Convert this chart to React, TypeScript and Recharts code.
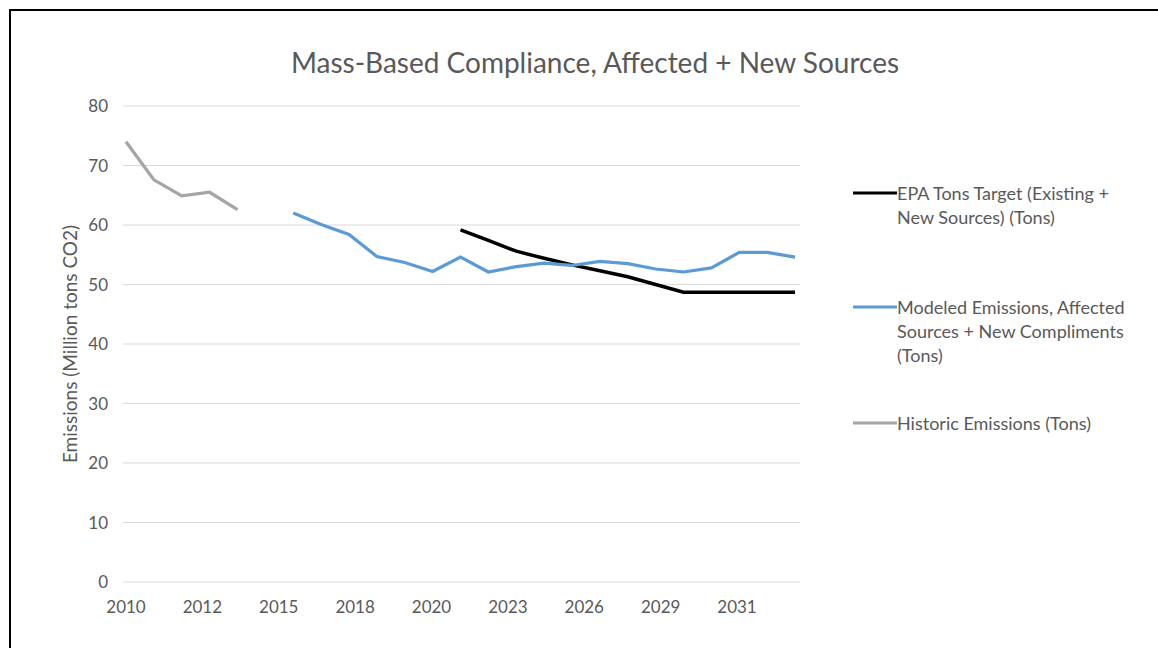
import React from 'react';
import { LineChart, Line, XAxis, YAxis, CartesianGrid, Legend } from 'recharts';

const periods = [0, 1, 2, 3, 4, 5, 6, 7, 8, 9, 10, 11, 12, 13, 14, 15, 16, 17, 18, 19, 20, 21, 22, 23, 24];

const historic = [74.0, 67.6, 64.9, 65.5, 62.6, null, null, null, null, null, null, null, null, null, null, null, null, null, null, null, null, null, null, null, null];

const modeled = [null, null, null, null, null, null, 62.0, 60.1, 58.4, 54.7, 53.7, 52.2, 54.6, 52.1, 53.0, 53.6, 53.2, 53.9, 53.5, 52.6, 52.1, 52.8, 55.4, 55.4, 54.6];

const target = [null, null, null, null, null, null, null, null, null, null, null, null, 59.2, 57.4, 55.6, 54.4, 53.3, 52.3, 51.3, 50.0, 48.7, 48.7, 48.7, 48.7, 48.7];

const xTickValues = [0, 2.74, 5.48, 8.22, 10.96, 13.7, 16.44, 19.18, 21.92];
const xTickLabels = ['2010', '2012', '2015', '2018', '2020', '2023', '2026', '2029', '2031'];
const yTicks = [0, 10, 20, 30, 40, 50, 60, 70, 80];

const seriesOrder = ['target', 'modeled', 'historic'];
const seriesNames: Record<string, string> = {
  target: 'EPA Tons Target (Existing + New Sources) (Tons)',
  modeled: 'Modeled Emissions, Affected Sources + New Compliments (Tons)',
  historic: 'Historic Emissions (Tons)',
};

const title = 'Mass-Based Compliance, Affected + New Sources';
const yTitle = 'Emissions (Million tons CO2)';

const data = periods.map((p, i) => ({
  p,
  target: target[i],
  modeled: modeled[i],
  historic: historic[i],
}));

const FONT = 'Lato, "Noto Sans", sans-serif';
const TEXT = '#595959';

const legendTops = [181, 295, 411];

const renderLegend = (props: any) => {
  const payload = [...(props.payload || [])].sort(
    (a: any, b: any) => seriesOrder.indexOf(a.dataKey) - seriesOrder.indexOf(b.dataKey)
  );
  return (
    <div style={{ position: 'relative', width: 300, height: 260 }}>
      {payload.map((entry: any, i: number) => (
        <div
          key={entry.dataKey}
          style={{
            position: 'absolute',
            left: 0,
            top: legendTops[i] - 181,
            display: 'flex',
            alignItems: 'flex-start',
          }}
        >
          <svg width={46} height={24} style={{ flex: '0 0 46px' }}>
            <line x1={2} y1={12} x2={46} y2={12} stroke={entry.color} strokeWidth={3} />
          </svg>
          <div
            style={{
              width: 240,
              fontFamily: FONT,
              fontSize: 18,
              lineHeight: '24px',
              color: TEXT,
              textAlign: 'left',
            }}
          >
            {entry.value}
          </div>
        </div>
      ))}
    </div>
  );
};

export default function App() {
  return (
    <div style={{ position: 'absolute', left: 0, top: 0, width: 1158, height: 648, background: '#fff', overflow: 'hidden' }}>
      <div
        style={{
          position: 'absolute',
          left: 9,
          top: 9,
          width: 1200,
          height: 700,
          borderTop: '2px solid #000',
          borderLeft: '2px solid #000',
        }}
      />
      <div
        style={{
          position: 'absolute',
          left: 0,
          width: 1190,
          top: 43,
          textAlign: 'center',
          fontFamily: FONT,
          fontSize: 28,
          color: TEXT,
          lineHeight: '38px',
        }}
      >
        {title}
      </div>
      <div style={{ position: 'absolute', left: 0, top: 0 }}>
        <LineChart
          width={1158}
          height={648}
          data={data}
          margin={{ top: 106, right: 358, bottom: 36, left: 17 }}
        >
          <CartesianGrid vertical={false} stroke="#d9d9d9" strokeWidth={1} />
          <XAxis
            dataKey="p"
            type="number"
            domain={[0, 24]}
            ticks={xTickValues}
            tickFormatter={(v: number) => xTickLabels[xTickValues.indexOf(v)] ?? ''}
            interval={0}
            padding={{ left: 3, right: 5 }}
            axisLine={false}
            tickLine={false}
            tickSize={0}
            tickMargin={19}
            height={30}
            tick={{ fill: TEXT, fontSize: 17, fontFamily: FONT }}
          />
          <YAxis
            type="number"
            domain={[0, 80]}
            ticks={yTicks}
            interval={0}
            width={106}
            axisLine={false}
            tickLine={false}
            tickSize={0}
            tickMargin={15}
            tick={{ fill: TEXT, fontSize: 17, fontFamily: FONT }}
            label={{
              value: yTitle,
              angle: -90,
              position: 'center',
              fill: TEXT,
              fontSize: 19,
              fontFamily: FONT,
            }}
          />
          <Legend
            layout="horizontal"
            align="center"
            verticalAlign="middle"
            content={renderLegend}
            wrapperStyle={{ left: 851, top: 181, width: 300 }}
          />
          <Line
            name={seriesNames.target}
            dataKey="target"
            stroke="#000000"
            strokeWidth={3.5}
            dot={false}
            connectNulls={false}
            isAnimationActive={false}
          />
          <Line
            name={seriesNames.modeled}
            dataKey="modeled"
            stroke="#5b9bd5"
            strokeWidth={3.2}
            dot={false}
            connectNulls={false}
            isAnimationActive={false}
          />
          <Line
            name={seriesNames.historic}
            dataKey="historic"
            stroke="#a5a5a5"
            strokeWidth={3.2}
            dot={false}
            connectNulls={false}
            isAnimationActive={false}
          />
        </LineChart>
      </div>
    </div>
  );
}
